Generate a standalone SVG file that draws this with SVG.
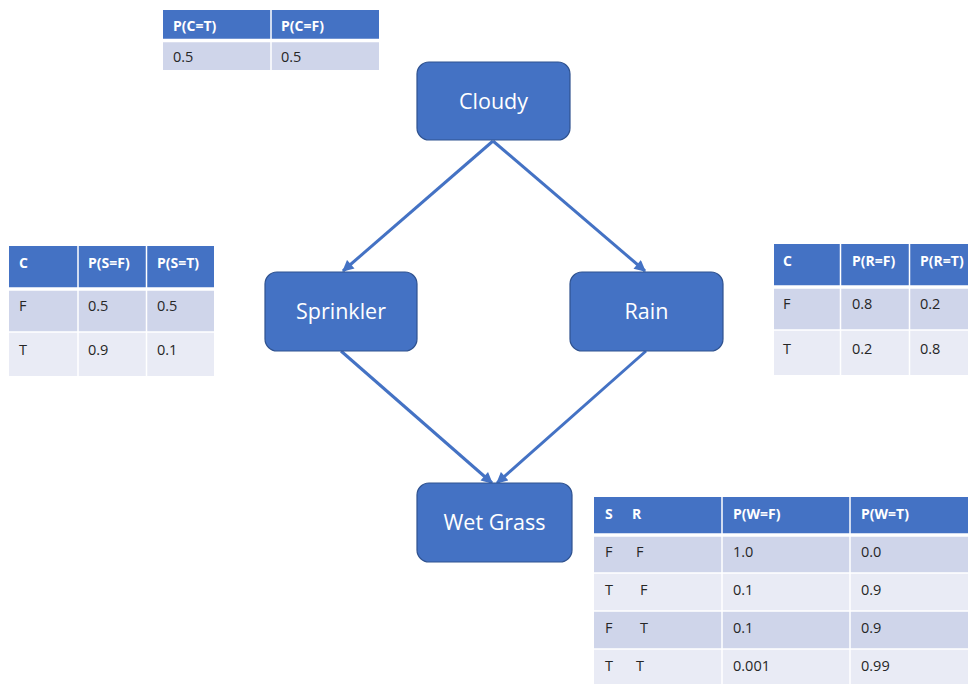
<svg xmlns="http://www.w3.org/2000/svg" width="968" height="684" viewBox="0 0 968 684">
  <style>
    .node rect { fill: #4472C4; stroke: #2F528F; stroke-width: 1.2; }
    .node text { fill: #FFFFFF; font-family: "Open Sans", "Liberation Sans", sans-serif; font-size: 21.5px; text-anchor: middle; }
    .hd { fill: #4472C4; }
    .r1 { fill: #CFD5EA; }
    .r2 { fill: #E9EBF5; }
    .grid { stroke: #FFFFFF; stroke-width: 1.5; fill: none; }
    .hline { stroke: #FFFFFF; stroke-width: 3.5; }
    .th { fill: #FFFFFF; font-family: "Open Sans", "Liberation Sans", sans-serif; font-size: 14px; font-weight: bold; }
    .td { fill: #262626; font-family: "Open Sans", "Liberation Sans", sans-serif; font-size: 14.5px; }
    .edge { stroke: #4472C4; stroke-width: 3; fill: none; marker-end: url(#arrow); }
  </style>
  <defs>
    <marker id="arrow" viewBox="0 0 10 10" refX="9" refY="5" markerWidth="4.2" markerHeight="3.8" orient="auto" markerUnits="strokeWidth">
      <path d="M0,0 L10,5 L0,10 Z" fill="#4472C4"/>
    </marker>
  </defs>
  <rect width="968" height="684" fill="#FFFFFF"/>

  <!-- connectors -->
  <g id="edges">
    <line class="edge" x1="493" y1="141" x2="343" y2="271"/>
    <line class="edge" x1="493" y1="141" x2="645" y2="271"/>
    <line class="edge" x1="341" y1="351" x2="492" y2="483"/>
    <line class="edge" x1="646" y1="351" x2="497" y2="483"/>
  </g>

  <!-- nodes -->
  <g id="cloudy" class="node">
    <rect x="417" y="62" width="153" height="78" rx="12"/>
    <text x="493.5" y="109">Cloudy</text>
  </g>
  <g id="sprinkler" class="node">
    <rect x="265" y="272" width="152" height="79" rx="12"/>
    <text x="341" y="319">Sprinkler</text>
  </g>
  <g id="rain" class="node">
    <rect x="570" y="272" width="153" height="79" rx="12"/>
    <text x="646.5" y="319">Rain</text>
  </g>
  <g id="wetgrass" class="node">
    <rect x="417" y="483" width="155" height="79" rx="12"/>
    <text x="494.5" y="530">Wet Grass</text>
  </g>

  <!-- P(C) table -->
  <g id="table-cloudy">
    <rect class="hd" x="163" y="10" width="216" height="30"/>
    <rect class="r1" x="163" y="40" width="216" height="30"/>
    <line class="hline" x1="163" y1="40.5" x2="379" y2="40.5"/>
    <line class="grid" x1="271" y1="10" x2="271" y2="70"/>
    <text class="th" x="173" y="31">P(C=T)</text>
    <text class="th" x="281" y="31">P(C=F)</text>
    <text class="td" x="173" y="62">0.5</text>
    <text class="td" x="281" y="62">0.5</text>
  </g>

  <!-- P(S|C) table -->
  <g id="table-sprinkler">
    <rect class="hd" x="9" y="246" width="205" height="42"/>
    <rect class="r1" x="9" y="288" width="205" height="44"/>
    <rect class="r2" x="9" y="332" width="205" height="44"/>
    <line class="hline" x1="9" y1="289" x2="214" y2="289"/>
    <line class="grid" x1="9" y1="332" x2="214" y2="332"/>
    <line class="grid" x1="78" y1="246" x2="78" y2="376"/>
    <line class="grid" x1="146.5" y1="246" x2="146.5" y2="376"/>
    <text class="th" x="19" y="268">C</text>
    <text class="th" x="88" y="268">P(S=F)</text>
    <text class="th" x="157" y="268">P(S=T)</text>
    <text class="td" x="19" y="311">F</text>
    <text class="td" x="88" y="311">0.5</text>
    <text class="td" x="157" y="311">0.5</text>
    <text class="td" x="19" y="355">T</text>
    <text class="td" x="88" y="355">0.9</text>
    <text class="td" x="157" y="355">0.1</text>
  </g>

  <!-- P(R|C) table -->
  <g id="table-rain">
    <rect class="hd" x="774" y="244" width="200" height="42"/>
    <rect class="r1" x="774" y="286" width="200" height="44"/>
    <rect class="r2" x="774" y="330" width="200" height="45"/>
    <line class="hline" x1="774" y1="287" x2="974" y2="287"/>
    <line class="grid" x1="774" y1="330" x2="974" y2="330"/>
    <line class="grid" x1="840.5" y1="244" x2="840.5" y2="375"/>
    <line class="grid" x1="909.5" y1="244" x2="909.5" y2="375"/>
    <text class="th" x="783" y="266">C</text>
    <text class="th" x="852" y="266">P(R=F)</text>
    <text class="th" x="920" y="266">P(R=T)</text>
    <text class="td" x="783" y="309">F</text>
    <text class="td" x="852" y="309">0.8</text>
    <text class="td" x="920" y="309">0.2</text>
    <text class="td" x="783" y="354">T</text>
    <text class="td" x="852" y="354">0.2</text>
    <text class="td" x="920" y="354">0.8</text>
  </g>

  <!-- P(W|S,R) table -->
  <g id="table-wetgrass">
    <rect class="hd" x="594" y="497" width="380" height="37"/>
    <rect class="r1" x="594" y="534" width="380" height="39"/>
    <rect class="r2" x="594" y="573" width="380" height="38"/>
    <rect class="r1" x="594" y="611" width="380" height="38"/>
    <rect class="r2" x="594" y="649" width="380" height="40"/>
    <line class="hline" x1="594" y1="535" x2="974" y2="535"/>
    <line class="grid" x1="594" y1="573" x2="974" y2="573"/>
    <line class="grid" x1="594" y1="611" x2="974" y2="611"/>
    <line class="grid" x1="594" y1="649" x2="974" y2="649"/>
    <line class="grid" x1="722" y1="497" x2="722" y2="689"/>
    <line class="grid" x1="850" y1="497" x2="850" y2="689"/>
    <text class="th" x="605" y="519">S</text>
    <text class="th" x="632" y="519">R</text>
    <text class="th" x="733" y="519">P(W=F)</text>
    <text class="th" x="861" y="519">P(W=T)</text>
    <text class="td" x="605" y="557">F</text>
    <text class="td" x="636" y="557">F</text>
    <text class="td" x="733" y="557">1.0</text>
    <text class="td" x="861" y="557">0.0</text>
    <text class="td" x="605" y="595">T</text>
    <text class="td" x="640" y="595">F</text>
    <text class="td" x="733" y="595">0.1</text>
    <text class="td" x="861" y="595">0.9</text>
    <text class="td" x="605" y="633">F</text>
    <text class="td" x="640" y="633">T</text>
    <text class="td" x="733" y="633">0.1</text>
    <text class="td" x="861" y="633">0.9</text>
    <text class="td" x="605" y="671">T</text>
    <text class="td" x="636" y="671">T</text>
    <text class="td" x="733" y="671">0.001</text>
    <text class="td" x="861" y="671">0.99</text>
  </g>
</svg>
